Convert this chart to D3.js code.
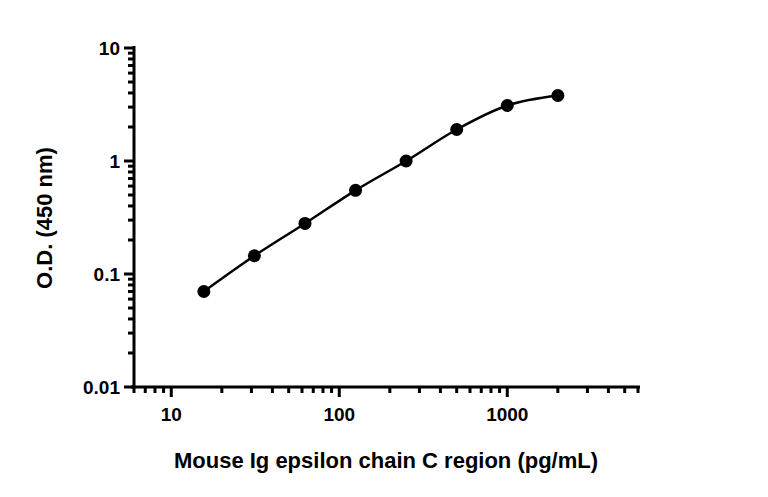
<!DOCTYPE html>
<html>
<head>
<meta charset="utf-8">
<script src="https://d3js.org/d3.v7.min.js"></script>
<style>
  body { margin: 0; background: #fff; }
  text { font-family: "Liberation Sans", Arial, sans-serif; font-weight: bold; fill: #000; }
</style>
</head>
<body>
<svg id="chart" width="768" height="497"></svg>
<script>
var concentrations = [15.625, 31.25, 62.5, 125, 250, 500, 1000, 2000];
var odValues = [0.07, 0.145, 0.28, 0.55, 1.0, 1.9, 3.1, 3.8];
var xTicks = [10, 100, 1000];
var yTicks = [0.01, 0.1, 1, 10];

var svg = d3.select("#chart");
var x = d3.scaleLog().domain([6, 6000]).range([134, 638]);
var y = d3.scaleLog().domain([0.01, 10]).range([387, 48]);

// minor ticks
var xMinor = [];
[1, 10, 100, 1000].forEach(function(d) {
  for (var k = 2; k <= 9; k++) if (d * k >= 6 && d * k <= 6000) xMinor.push(d * k);
});
var yMinor = [];
[0.01, 0.1, 1].forEach(function(d) {
  for (var k = 2; k <= 9; k++) yMinor.push(d * k);
});

var xAxis = svg.append("g").attr("transform", "translate(0,387)");
xAxis.append("line").attr("x1", 131).attr("x2", 640).attr("stroke", "#000").attr("stroke-width", 3);
xAxis.selectAll(".mn").data(xMinor).enter().append("line")
  .attr("x1", x).attr("x2", x).attr("y1", 0).attr("y2", 6).attr("stroke", "#000").attr("stroke-width", 3);
xAxis.selectAll(".mj").data(xTicks).enter().append("line")
  .attr("x1", x).attr("x2", x).attr("y1", 0).attr("y2", 10).attr("stroke", "#000").attr("stroke-width", 3);
xAxis.selectAll("text").data(xTicks).enter().append("text")
  .attr("x", x).attr("y", 34).attr("text-anchor", "middle").style("font-size", "19px").text(d3.format("d"));

var yAxis = svg.append("g").attr("transform", "translate(134,0)");
yAxis.append("line").attr("y1", 46).attr("y2", 388).attr("stroke", "#000").attr("stroke-width", 3);
yAxis.selectAll(".mn").data(yMinor).enter().append("line")
  .attr("y1", y).attr("y2", y).attr("x1", 0).attr("x2", -6).attr("stroke", "#000").attr("stroke-width", 3);
yAxis.selectAll(".mj").data(yTicks).enter().append("line")
  .attr("y1", y).attr("y2", y).attr("x1", 0).attr("x2", -10).attr("stroke", "#000").attr("stroke-width", 3);
yAxis.selectAll("text").data(yTicks).enter().append("text")
  .attr("x", -14).attr("y", function(d) { return y(d) + 7; }).attr("text-anchor", "end")
  .style("font-size", "19px").text(function(d) { return String(d); });

var pts = concentrations.map(function(c, i) { return [c, odValues[i]]; });
var line = d3.line().x(function(d) { return x(d[0]); }).y(function(d) { return y(d[1]); }).curve(d3.curveMonotoneX);
svg.append("path").datum(pts).attr("d", line).attr("fill", "none").attr("stroke", "#000").attr("stroke-width", 2.5);
svg.selectAll("circle").data(pts).enter().append("circle")
  .attr("cx", function(d) { return x(d[0]); }).attr("cy", function(d) { return y(d[1]); })
  .attr("r", 6.5).attr("fill", "#000");

svg.append("text").attr("transform", "translate(52,218) rotate(-90)").attr("text-anchor", "middle")
  .style("font-size", "22px").text("O.D. (450 nm)");
svg.append("text").attr("x", 386).attr("y", 468).attr("text-anchor", "middle")
  .style("font-size", "22px").text("Mouse Ig epsilon chain C region (pg/mL)");
</script>
</body>
</html>
